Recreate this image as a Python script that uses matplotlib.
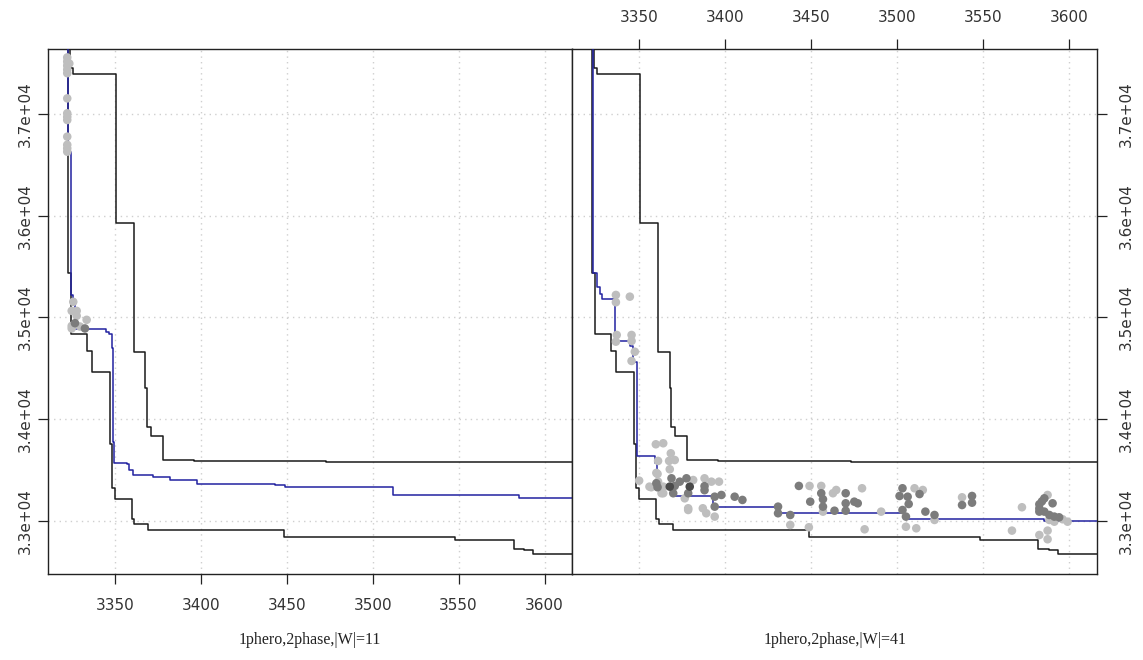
import matplotlib
matplotlib.use("Agg")
import matplotlib.pyplot as plt
import numpy as np

# step curves (x where each level starts, level value); first value is above the top of the plot
upper_x = [3324, 3324, 3325.7, 3350.5, 3361, 3367.7, 3368.7, 3371, 3378, 3396, 3473, 3616]
upper_y = [38500, 37460, 37394, 35927, 34661, 34310, 33925, 33836, 33600, 33590, 33575, 33575]

lower_x = [3322.6, 3322.6, 3324.5, 3333.6, 3336.4, 3347, 3348, 3349.8, 3360, 3361.3, 3369.4,
           3448.6, 3548, 3582, 3588, 3593.5, 3616]
lower_y = [38500, 35438, 34840, 34671, 34463, 33752, 33325, 33217, 33013, 32968, 32905,
           32836, 32813, 32724, 32707, 32667, 32667]

fit11_x = [3322.5, 3322.5, 3324.5, 3325.7, 3326.7, 3345, 3346.5, 3348, 3348.7, 3349.6, 3356.7,
           3358.3, 3360.6, 3372, 3382, 3397.5, 3443, 3449, 3512, 3585, 3616]
fit11_y = [38500, 36632, 35222, 35172, 34890, 34860, 34840, 34695, 33775, 33572, 33553,
           33503, 33449, 33432, 33396, 33363, 33347, 33330, 33250, 33225, 33225]

fit41_x = [3323.4, 3323.4, 3325.5, 3327, 3328.2, 3336, 3344.6, 3346.2, 3348.9, 3359, 3360.5,
           3370, 3393, 3430.7, 3504, 3585.4, 3616]
fit41_y = [38500, 35438, 35303, 35230, 35179, 34769, 34720, 34563, 33632, 33566, 33334,
           33240, 33132, 33073, 33013, 32993, 32993]

# observations: x, y, level (0 light, 1 mid, 2 dark)
obs11_x = [3322.2, 3322.2, 3322.2, 3322.2, 3322.2, 3323.4, 3322.2, 3322.2, 3322.2, 3322.2,
           3322.2, 3322.2, 3322.2, 3322.2,
           3325.7, 3324.8, 3327.7, 3327.7, 3326.7, 3324.8, 3333.5, 3332.5, 3324.8, 3329.6]
obs11_y = [37560, 37520, 37480, 37440, 37405, 37500, 37157, 37010, 36975, 36944,
           36780, 36700, 36665, 36632,
           35154, 35065, 35065, 35016, 34944, 34917, 34977, 34892, 34892, 34911]
obs11_lv = [0, 0, 0, 0, 0, 0, 0, 0, 0, 0, 0, 0, 0, 0,
            0, 0, 0, 0, 1, 0, 0, 1, 0, 0]

obs41_x = [3336.5, 3336.5, 3344.6, 3337, 3336.5, 3345.6, 3345.6, 3347.5, 3345.6,
           3359.7, 3364, 3368.4, 3367.4, 3370.7, 3361, 3367.8, 3360.7, 3350, 3361,
           3360.7, 3357, 3364, 3363, 3368.8, 3367.8, 3370.7, 3369.8, 3373.6, 3377.5,
           3379.4, 3378.5, 3381.4, 3376.5, 3388, 3388, 3388, 3392, 3396.4, 3393.9,
           3397.8, 3405.5, 3410, 3393.9, 3378.5, 3387, 3378.5, 3389, 3393.9, 3356,
           3360, 3360, 3364,
           3430.7, 3430.7, 3437.8, 3437.8, 3442.8, 3449, 3455.8, 3455.8, 3456.8, 3456.8,
           3462.6, 3464.5, 3470, 3470, 3470, 3463.5, 3475, 3477, 3449.4, 3456.8,
           3479.5, 3490.6, 3481, 3448.6,
           3503, 3510, 3514.8, 3501.3, 3506, 3512.9, 3506.6, 3503, 3505, 3505,
           3511, 3516.3, 3521.6, 3521.6,
           3537.6, 3537.6, 3543.4, 3543.4, 3572.4, 3566.6, 3582.5, 3585.4, 3587.3, 3590.2,
           3582.5, 3585.4, 3588.3, 3591.2, 3594, 3596, 3598.9, 3588.3, 3591.2, 3587.3,
           3582.5, 3587.3, 3582.5, 3584]
obs41_y = [35222, 35150, 35205, 34828, 34762, 34828, 34769, 34663, 34572,
           33752, 33762, 33663, 33588, 33597, 33588, 33506, 33460, 33394, 33384,
           33329, 33329, 33335, 33270, 33417, 33335, 33342, 33270, 33384, 33417,
           33335, 33270, 33400, 33220, 33417, 33340, 33300, 33384, 33384, 33236,
           33253, 33236, 33204, 33138, 33122, 33122, 33105, 33073, 33040, 33335,
           33470, 33368, 33270,
           33138, 33073, 33056, 32958, 33342, 33342, 33342, 33270, 33211, 33138,
           33270, 33302, 33270, 33171, 33098, 33098, 33187, 33171, 33187, 33089,
           33319, 33089, 32915, 32935,
           33319, 33319, 33302, 33243, 33236, 33262, 33164, 33105, 33040, 32940,
           32925, 33089, 33056, 33007,
           33230, 33154, 33243, 33177, 33132, 32902, 33161, 33220, 33253, 33171,
           33089, 33089, 33056, 33040, 33033, 33014, 32990, 33007, 32990, 32902,
           32859, 32817, 33120, 33190]
obs41_lv = [0, 0, 0, 0, 0, 0, 0, 0, 0,
            0, 0, 0, 0, 0, 0, 0, 0, 0, 0,
            1, 0, 0, 0, 1, 2, 1, 1, 1, 1,
            2, 1, 0, 0, 0, 1, 1, 0, 0, 1,
            1, 1, 1, 1, 0, 0, 0, 0, 0, 0,
            0, 1, 0,
            1, 1, 1, 0, 1, 0, 0, 1, 1, 1,
            0, 0, 1, 1, 1, 1, 1, 1, 1, 0,
            0, 0, 0, 0,
            1, 0, 0, 1, 1, 1, 1, 1, 1, 0,
            0, 1, 1, 0,
            0, 1, 1, 1, 0, 0, 1, 1, 0, 1,
            1, 1, 1, 1, 1, 0, 0, 0, 0, 0,
            0, 0, 1, 1]

panel_labels = ["1phero,2phase,|W|=11", "1phero,2phase,|W|=41"]
xticks = [3350, 3400, 3450, 3500, 3550, 3600]
yticks = [33000, 34000, 35000, 36000, 37000]
ytick_labels = ["3.3e+04", "3.4e+04", "3.5e+04", "3.6e+04", "3.7e+04"]

shades = ['#bebebe', '#7c7c7c', '#4a4a4a']

fig = plt.figure(figsize=(11.43, 6.6), dpi=100)
ax1 = fig.add_axes([48/1143, 1-574/660, 524/1143, 525/660])
ax2 = fig.add_axes([572/1143, 1-574/660, 525/1143, 525/660])

panels = [(ax1, fit11_x, fit11_y, obs11_x, obs11_y, obs11_lv),
          (ax2, fit41_x, fit41_y, obs41_x, obs41_y, obs41_lv)]
for ax, fx, fy, ox, oy, lv in panels:
    ax.set_xlim(3311, 3616)
    ax.set_ylim(32475, 37643)
    for t in xticks:
        ax.axvline(t, color='#cfcfcf', linestyle=(0, (1, 3)), linewidth=1.0, zorder=0)
    for t in yticks:
        ax.axhline(t, color='#cfcfcf', linestyle=(0, (1, 3)), linewidth=1.0, zorder=0)
    ax.plot(upper_x, upper_y, drawstyle='steps-post', color='#1a1a1a', linewidth=1.1, zorder=2)
    ax.plot(lower_x, lower_y, drawstyle='steps-post', color='#1a1a1a', linewidth=1.1, zorder=2)
    ax.plot(fx, fy, drawstyle='steps-post', color='#2222a0', linewidth=1.1, zorder=3)
    ox = np.array(ox)
    oy = np.array(oy)
    lv = np.array(lv)
    for k in range(3):
        m = lv == k
        ax.scatter(ox[m], oy[m], s=38, color=shades[k], edgecolors='none', zorder=4 + k)
    for s in ax.spines.values():
        s.set_linewidth(1.0)
        s.set_color('#222222')
    ax.set_xticks(xticks)
    ax.set_yticks(yticks)
    ax.tick_params(length=7, width=0.9, color='#222222', labelcolor='#333333',
                   labelsize=11)
    ax.tick_params(axis='x', pad=10)

ax1.tick_params(axis='x', bottom=True, top=False, labelbottom=True, labeltop=False)
ax1.tick_params(axis='y', left=True, right=False, labelleft=True, labelright=False, pad=4)
ax1.set_yticklabels(ytick_labels, rotation=90, va='center')
ax2.tick_params(axis='x', bottom=False, top=True, labelbottom=False, labeltop=True)
ax2.tick_params(axis='y', left=False, right=True, labelleft=False, labelright=True, pad=9)
ax2.set_yticklabels(ytick_labels, rotation=90, va='center')

fig.text(310/1143, 1-640/660, panel_labels[0], ha='center', va='center',
         fontsize=11.5, family='Liberation Serif', color='#222222')
fig.text(835/1143, 1-640/660, panel_labels[1], ha='center', va='center',
         fontsize=11.5, family='Liberation Serif', color='#222222')

fig.savefig('out.png', dpi=100)
